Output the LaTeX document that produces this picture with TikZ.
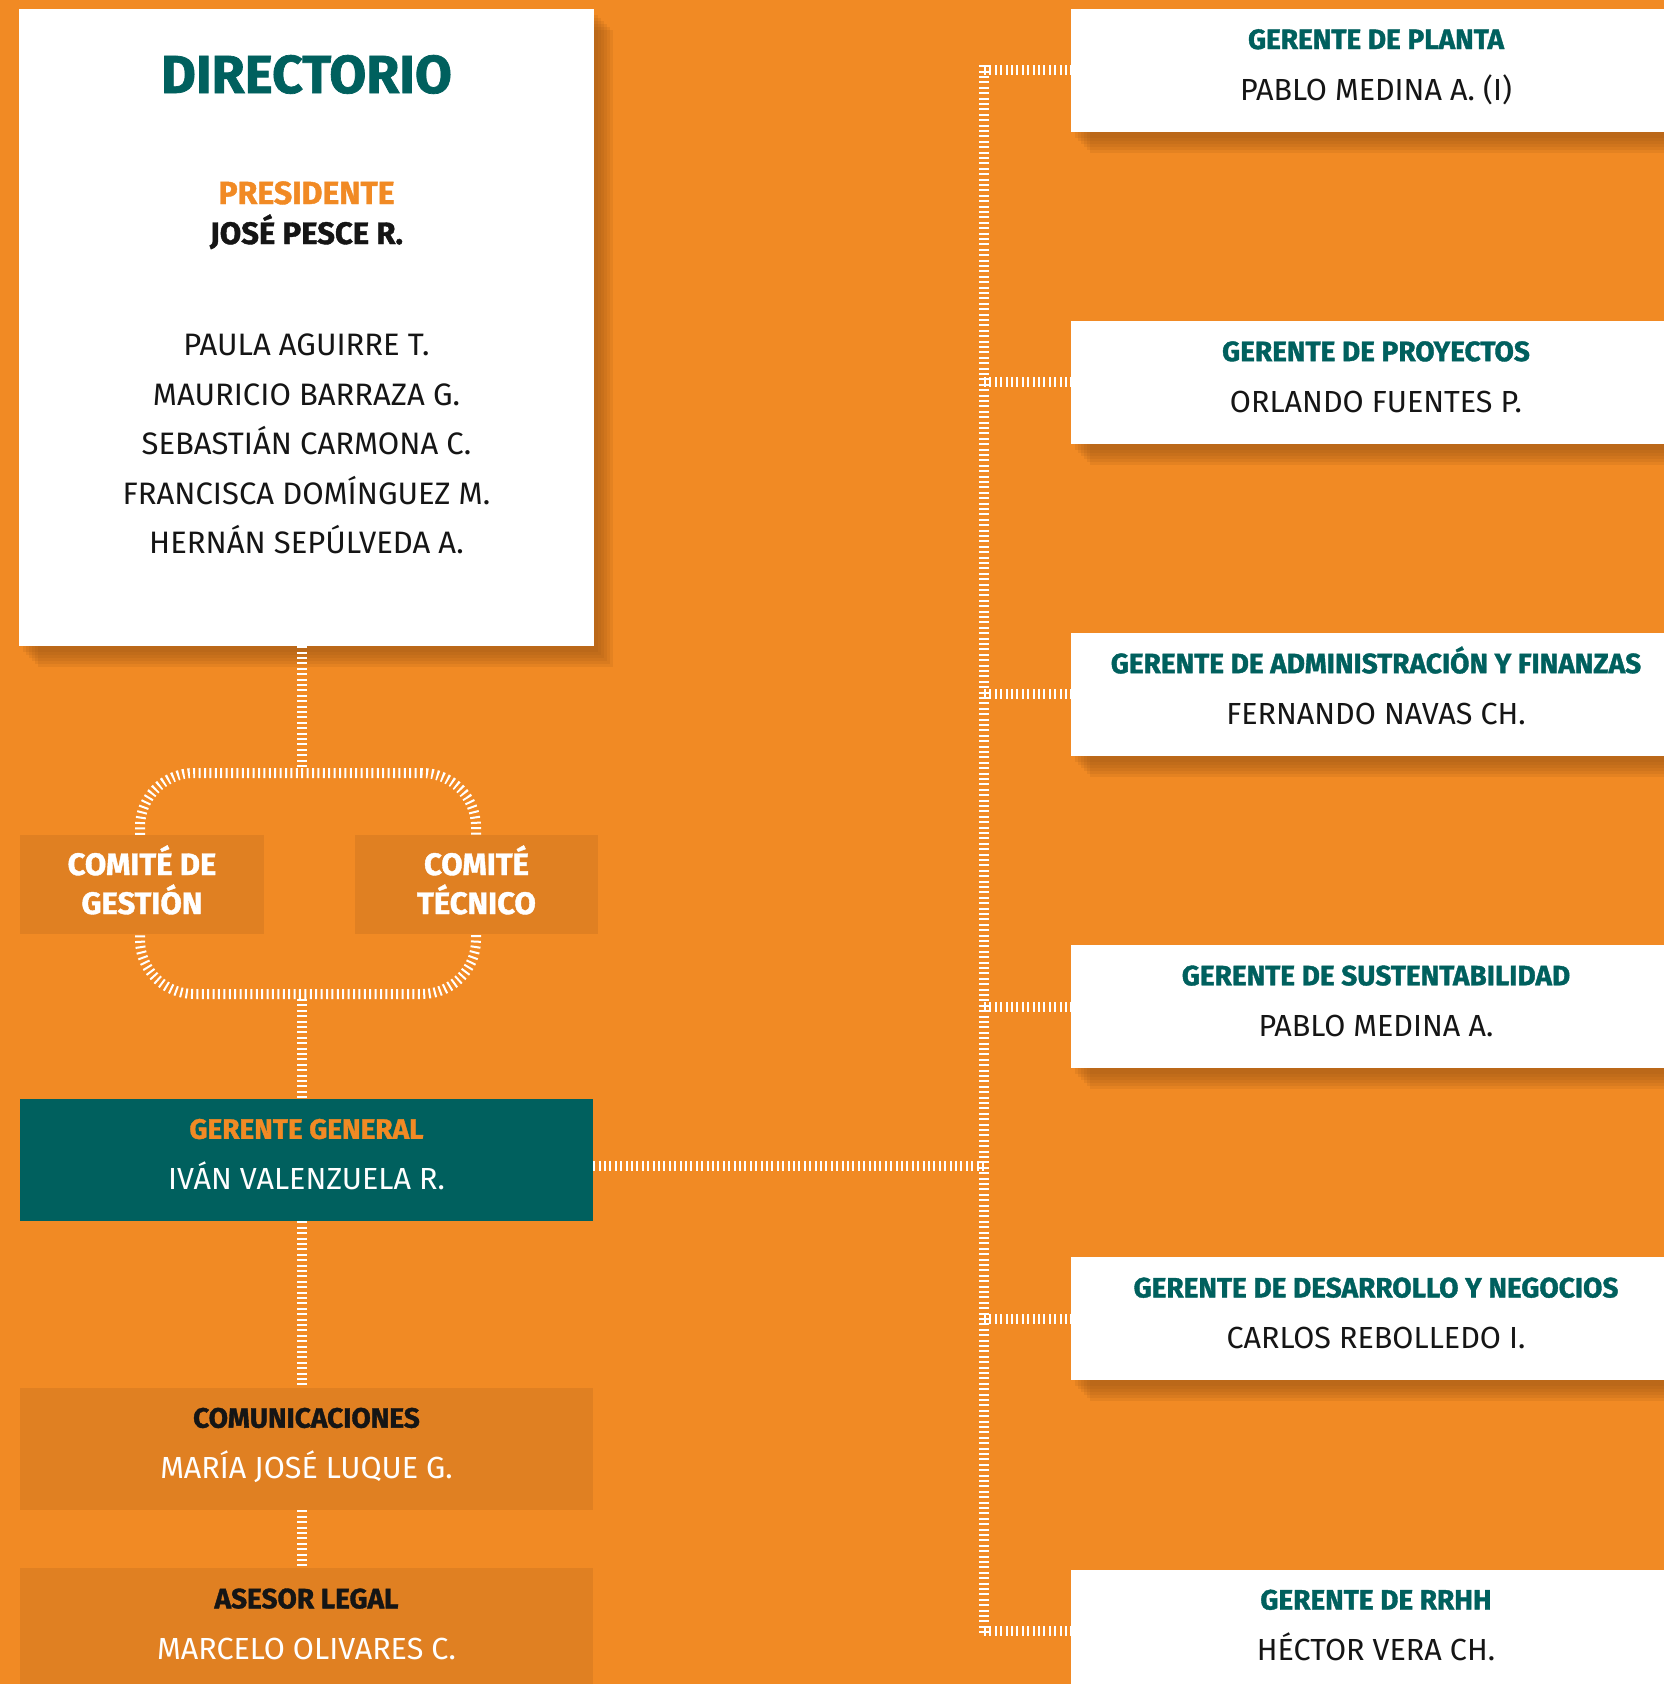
\documentclass[tikz,border=0pt]{standalone}
\usepackage{fontspec}
\setmainfont{Fira Sans}[BoldFeatures={FakeBold=1.3}]
\usepackage{tikz}
\usetikzlibrary{positioning,shadows}
\definecolor{fondo}{HTML}{F18A24}
\definecolor{petroleo}{HTML}{00605E}
\definecolor{naranjo}{HTML}{E08022}
\definecolor{cafe}{HTML}{9A5514}
\definecolor{tinta}{HTML}{151515}
\newcommand{\ttl}{\bfseries\fontsize{28}{51}\selectfont}
\newcommand{\cargo}[3][petroleo]{\rule{0pt}{20pt}\smash{\ttl\color{#1}#2}\\\smash{#3}\rule[-11.5pt]{0pt}{11.5pt}}
\newcommand{\dos}[2]{\rule{0pt}{20pt}\smash{#1}\\\smash{#2}}

\begin{document}
\begin{tikzpicture}[x=1pt,y=-1pt,
    escalera/.style={draw=white,line width=10pt,dash pattern=on 2pt off 3.4pt},
    sombreado/.style={general shadow={fill=cafe,opacity=.14,shadow xshift=4pt,shadow yshift=-6pt},
                      general shadow={fill=cafe,opacity=.14,shadow xshift=7pt,shadow yshift=-9pt},
                      general shadow={fill=cafe,opacity=.14,shadow xshift=10pt,shadow yshift=-12pt},
                      general shadow={fill=cafe,opacity=.14,shadow xshift=13pt,shadow yshift=-15pt},
                      general shadow={fill=cafe,opacity=.14,shadow xshift=16pt,shadow yshift=-18pt},
                      general shadow={fill=cafe,opacity=.14,shadow xshift=19pt,shadow yshift=-21pt}},
    caja/.style={inner sep=0pt,align=center,font=\fontsize{30.5}{51}\selectfont},
    izq/.style={caja,minimum width=573pt,minimum height=122.5pt},
    der/.style={caja,fill=white,text=tinta,sombreado,minimum width=610pt,minimum height=122.5pt},
    comite/.style={inner sep=0pt,align=center,fill=naranjo,text=white,
                   font=\bfseries\fontsize{31}{39}\selectfont,minimum height=99pt}]
  \tikzstyle{miembro}=[anchor=base,text=tinta,font=\fontsize{31}{34}\selectfont]

  \useasboundingbox (0,0) rectangle (1664,1684);
  \clip (0,0) rectangle (1664,1684);
  \fill[fondo] (0,0) rectangle (1664,1684);

  % directorio
  \node[fill=white,sombreado,minimum width=575pt,minimum height=637pt,inner sep=0pt] (dir) at (306.5,327.5) {};
  \node[anchor=base,text=petroleo,font=\bfseries\fontsize{53.5}{60}\selectfont] (titulo) at (306.5,93) {DIRECTORIO};
  \node[anchor=base,text=fondo,font=\bfseries\fontsize{32}{35}\selectfont] (pres) at (306.5,204) {PRESIDENTE};
  \node[anchor=base,text=tinta,font=\bfseries\fontsize{31}{35}\selectfont] (presnom) at (306.5,244) {JOSÉ PESCE R.};
  \foreach \nombre [count=\i] in {PAULA AGUIRRE T.,MAURICIO BARRAZA G.,SEBASTIÁN CARMONA C.,FRANCISCA DOMÍNGUEZ M.,HERNÁN SEPÚLVEDA A.}
    \node[miembro] (dir\i) at (306.5,306+49.5*\i) {\nombre};

  % linea central
  \node[izq,fill=petroleo,text=white] (gg) at (306.5,1160) {\cargo[fondo]{GERENTE GENERAL}{IVÁN VALENZUELA R.}};
  \node[izq,fill=naranjo,text=white,below=166pt of gg] (com) {\cargo[tinta]{COMUNICACIONES}{MARÍA JOSÉ LUQUE G.}};
  \node[izq,fill=naranjo,text=white,below=57.75pt of com] (legal) {\cargo[tinta]{ASESOR LEGAL}{MARCELO OLIVARES C.}};

  % gerencias
  \node[der] (planta) at (1376,70.25) {\cargo{GERENTE DE PLANTA}{PABLO MEDINA A. (I)}};
  \node[der,below=189.2pt of planta] (proyectos) {\cargo{GERENTE DE PROYECTOS}{ORLANDO FUENTES P.}};
  \node[der,below=189.2pt of proyectos] (finanzas) {\cargo{GERENTE DE ADMINISTRACIÓN Y FINANZAS}{FERNANDO NAVAS CH.}};
  \node[der,below=189.2pt of finanzas] (sustentab) {\cargo{GERENTE DE SUSTENTABILIDAD}{PABLO MEDINA A.}};
  \node[der,below=189.2pt of sustentab] (desarrollo) {\cargo{GERENTE DE DESARROLLO Y NEGOCIOS}{CARLOS REBOLLEDO I.}};
  \node[der,below=189.2pt of desarrollo] (rrhh) {\cargo{GERENTE DE RRHH}{HÉCTOR VERA CH.}};

  % comites
  \node[draw,escalera,minimum width=336pt,minimum height=221pt,rounded corners=54pt,inner sep=0pt] (lazo) at (308,883.5) {};
  \node[comite,minimum width=244pt] (gestion) at (142,884.5) {\dos{COMITÉ DE}{GESTIÓN}};
  \node[comite,minimum width=243pt] (tecnico) at (476.5,884.5) {\dos{COMITÉ}{TÉCNICO}};

  \coordinate (eje) at (302,0);
  \draw[escalera] (dir.south -| eje) -- (lazo.north -| eje);
  \draw[escalera] (lazo.south -| eje) -- (gg.north -| eje);
  \draw[escalera] (gg.south -| eje) -- (com.north -| eje);
  \draw[escalera] (com.south -| eje) -- (legal.north -| eje);

  \coordinate (tronco) at (984,1166);
  \draw[escalera] (gg.east |- tronco) -- (tronco);
  \draw[escalera,shorten <=-5pt,shorten >=-5pt] (planta.west -| tronco) -- (rrhh.west -| tronco);
  \foreach \g in {planta,proyectos,finanzas,sustentab,desarrollo,rrhh}
    \draw[escalera] (\g.west -| tronco) -- (\g.west);
\end{tikzpicture}
\end{document}
